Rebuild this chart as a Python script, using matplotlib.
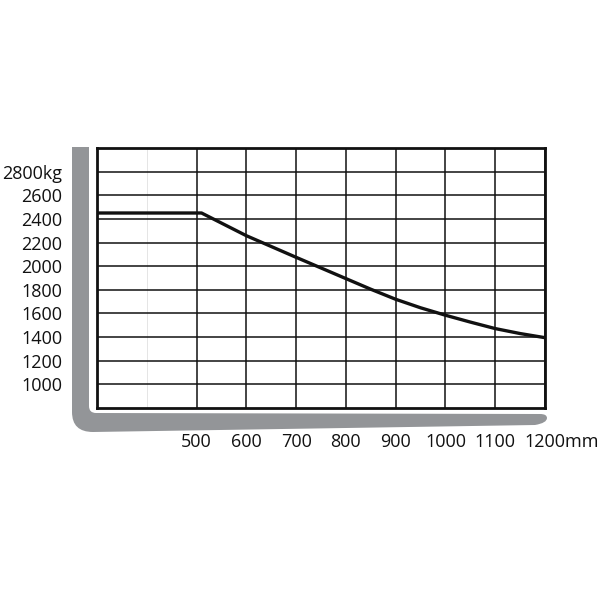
import matplotlib.pyplot as plt
from matplotlib.path import Path
from matplotlib.patches import PathPatch
from matplotlib.transforms import offset_copy

plt.rcParams.update({"font.family": ["Open Sans", "DejaVu Sans"]})
GREY, INK = "#939598", "#111111"

# load curve: distance of load centre (mm) -> capacity (kg)
dist_mm = [300, 510, 600, 700, 750, 800, 850, 900, 950, 1000, 1050, 1100, 1150, 1200]
load_kg = [2450, 2450, 2258, 2075, 1985, 1895, 1805, 1720, 1648, 1585, 1527, 1472, 1430, 1395]
x_ticks = [500, 600, 700, 800, 900, 1000, 1100, 1200]
x_labels = ["500", "600", "700", "800", "900", "1000", "1100", ""]
y_ticks = [1000, 1200, 1400, 1600, 1800, 2000, 2200, 2400, 2600, 2800]
y_labels = ["1000", "1200", "1400", "1600", "1800", "2000", "2200", "2400", "2600", "2800kg"]

W = H = 600
fig = plt.figure(figsize=(6, 6), dpi=100)
fig.patch.set_facecolor("white")

# grey fork outline (background, pixel coords, y down)
bg = fig.add_axes([0, 0, 1, 1]); bg.axis("off")
bg.set_xlim(0, W); bg.set_ylim(H, 0)
verts = [(72, 147), (89, 147), (89, 406), (89, 413), (96, 413), (540, 414),
         (547, 414), (547, 418), (547, 423), (535, 425), (93, 432), (72, 432),
         (72, 412), (72, 147)]
codes = [Path.MOVETO, Path.LINETO, Path.LINETO, Path.CURVE3, Path.CURVE3, Path.LINETO,
         Path.CURVE3, Path.CURVE3, Path.CURVE3, Path.CURVE3, Path.LINETO, Path.CURVE3,
         Path.CURVE3, Path.CLOSEPOLY]
bg.add_patch(PathPatch(Path(verts, codes), fc=GREY, ec="none"))

# chart box
L, R, T, B = 97, 545, 148, 408
ax = fig.add_axes([L / W, 1 - B / H, (R - L) / W, (B - T) / H])
ax.set_xlim(300, 1200); ax.set_ylim(800, 3000)

FS = 13
ax.set_xticks(x_ticks); ax.set_xticklabels(x_labels, fontsize=FS, color=INK)
ax.set_xticks([400], minor=True)
ax.set_yticks(y_ticks); ax.set_yticklabels(y_labels, fontsize=FS, color=INK)
ax.tick_params(axis="both", which="both", length=0)
ax.tick_params(axis="x", pad=18)
ax.tick_params(axis="y", pad=25)
ax.grid(True, which="major", color=INK, lw=1.1)
ax.grid(True, which="minor", axis="x", color="#dadada", lw=0.5)
ax.set_axisbelow(True)
for s in ax.spines.values():
    s.set_linewidth(2.0); s.set_color(INK)

ax.plot(dist_mm, load_kg, color=INK, lw=2.4, solid_joinstyle="round", zorder=3)

# last x label with unit, left aligned just past the tick
ax.text(1200, 0, "1200mm", fontsize=FS, color=INK, ha="left", va="top",
        transform=offset_copy(ax.get_xaxis_transform(), fig=fig, x=-15, y=-18, units="points"))

fig.savefig("out.png", dpi=100, facecolor="white")
